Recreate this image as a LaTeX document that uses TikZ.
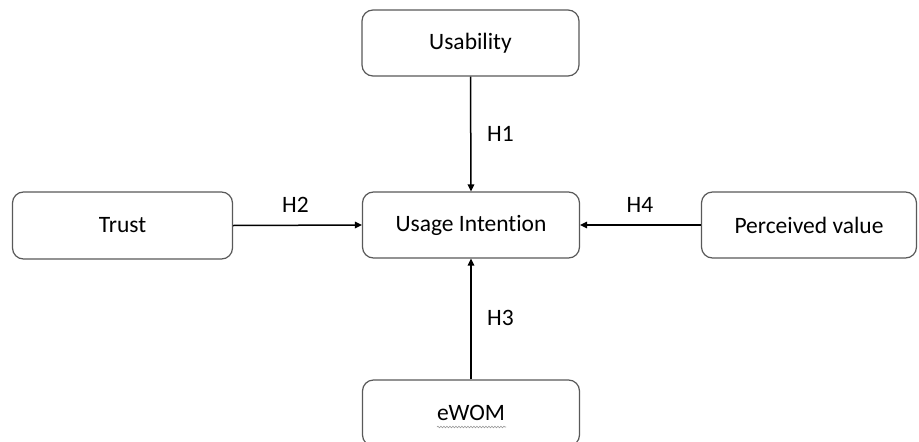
\documentclass[tikz,border=0pt]{standalone}
\usepackage{fontspec}
\setmainfont{Carlito}[Ligatures=NoCommon]
\usetikzlibrary{arrows.meta,decorations.pathmorphing}
\begin{document}
\begin{tikzpicture}[x=1pt,y=-1pt,
  box/.style={draw=black!65,line width=1.2pt,rounded corners=11pt,fill=white,
    minimum width=217pt,minimum height=66pt,inner sep=0pt,font=\fontsize{23.5}{28}\selectfont},
  conn/.style={line width=1.5pt,-{Triangle[width=6.5pt,length=7pt]}},
  lab/.style={font=\fontsize{23.5}{28}\selectfont,inner sep=0pt}]
\useasboundingbox (0,0) rectangle (919,442);
\clip (0,0) rectangle (919,442);
\node[box] (use) at (470.5,43) {Usability};
\node[box,minimum width=220pt,minimum height=67pt] (trust) at (122.5,225.5) {Trust};
\node[box] (ui) at (471,225) {Usage Intention};
\node[box,minimum width=215pt] (pv) at (809,225) {Perceived value};
\node[box] (ewom) at (471,413) {eWOM};
\draw[conn] (use.south) -- (ui.north);
\draw[conn] (trust.east) -- (ui.west);
\draw[conn] (pv.west) -- (ui.east);
\draw[conn] (ewom.north) -- (ui.south);
\node[lab] (h1) at (500.5,133.5) {H1};
\node[lab] (h2) at (295.5,205) {H2};
\node[lab] (h3) at (500.5,317.5) {H3};
\node[lab] (h4) at (640,205) {H4};
\coordinate (w1) at (437,427);
\coordinate (w2) at (506,427);
\draw[black!40,line width=0.6pt,decorate,decoration={snake,amplitude=0.8pt,segment length=3pt}] (w1) -- (w2);
\end{tikzpicture}
\end{document}
